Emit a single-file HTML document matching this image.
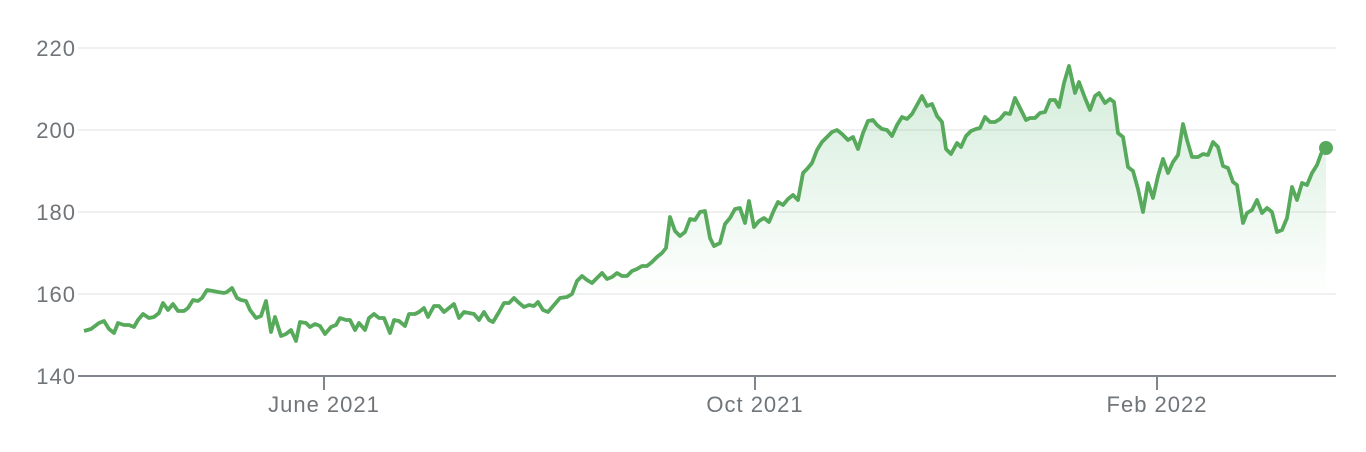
<!DOCTYPE html>
<html><head><style>body{margin:0;background:#fff}svg{display:block}text{font-family:"Liberation Sans",sans-serif;fill:#70757a;font-size:22px;letter-spacing:1px}</style></head><body>
<svg width="1366" height="452" viewBox="0 0 1366 452">
<defs><linearGradient id="g" x1="0" y1="60" x2="0" y2="300" gradientUnits="userSpaceOnUse"><stop offset="0" stop-color="#34a853" stop-opacity="0.22"/><stop offset="1" stop-color="#34a853" stop-opacity="0"/></linearGradient></defs>
<g stroke="#ececec" stroke-width="1.5"><line x1="78" y1="48" x2="1336" y2="48"/><line x1="78" y1="130" x2="1336" y2="130"/><line x1="78" y1="212" x2="1336" y2="212"/><line x1="78" y1="294" x2="1336" y2="294"/></g>
<g text-anchor="end"><text x="76" y="56">220</text><text x="76" y="138">200</text><text x="76" y="220">180</text><text x="76" y="302">160</text><text x="76" y="384">140</text></g>
<polygon fill="url(#g)" points="84,331 91,329 99,323 104,321 109,329 114,333 118,323 124,325 129,325 134,327 138,320 143,314 149,318 154,317 159,313 163,303 168,310 173,304 178,311 184,311 188,308 193,300 198,301 202,298 207,290 213,291 218,292 224,293 227,292 232,288 237,298 241,300 246,301 250,310 256,318 261,316 266,301 271,332 275,317 281,336 286,334 291,330 296,341 300,322 306,323 310,327 315,324 320,326 325,334 331,327 336,325 340,318 346,320 350,320 355,330 359,323 365,330 369,318 374,314 379,318 384,318 390,333 394,320 399,321 405,326 409,314 415,314 419,312 424,308 428,317 434,306 439,306 444,312 449,308 454,304 459,318 464,312 469,313 474,314 479,320 484,312 489,320 493,322 499,312 504,303 509,303 514,298 518,302 524,307 529,305 534,306 538,302 543,310 548,312 554,305 560,298 567,297 572,294 577,281 582,276 587,280 592,283 597,278 602,273 607,279 612,277 617,273 622,276 627,276 632,271 637,269 642,266 647,266 652,262 657,257 662,253 666,248 670,217 675,231 680,236 685,232 690,219 695,220 700,212 705,211 710,238 714,246 720,243 725,224 730,218 735,209 740,208 745,223 749,201 754,227 759,221 764,218 769,222 774,210 778,202 783,205 788,199 793,195 798,200 803,173 807,169 812,163 817,150 822,142 827,137 832,132 837,130 842,134 848,140 853,137 858,149 863,133 868,121 873,120 877,125 882,129 887,130 892,136 897,125 902,117 907,119 912,114 917,105 922,96 927,106 932,104 937,116 942,122 946,149 951,154 957,143 961,147 966,136 971,131 976,129 980,128 985,117 990,122 995,122 1000,119 1005,113 1010,114 1015,98 1020,108 1026,120 1030,118 1035,118 1040,113 1045,112 1050,100 1055,100 1059,107 1064,83 1069,66 1075,93 1079,82 1085,98 1090,110 1095,96 1099,93 1105,103 1110,99 1114,102 1118,133 1123,137 1128,167 1133,171 1138,189 1143,212 1148,183 1153,198 1158,176 1163,159 1168,173 1173,162 1178,155 1183,124 1187,140 1192,157 1198,157 1203,154 1208,155 1213,142 1218,147 1223,166 1228,168 1233,182 1237,185 1243,223 1247,213 1252,210 1257,200 1262,213 1267,208 1272,212 1277,232 1282,230 1287,218 1292,187 1297,200 1302,183 1307,185 1312,173 1317,165 1321,154 1326,147 1326,376 84,376"/>
<polyline fill="none" stroke="#57a95b" stroke-width="3.8" stroke-linejoin="round" points="84,331 91,329 99,323 104,321 109,329 114,333 118,323 124,325 129,325 134,327 138,320 143,314 149,318 154,317 159,313 163,303 168,310 173,304 178,311 184,311 188,308 193,300 198,301 202,298 207,290 213,291 218,292 224,293 227,292 232,288 237,298 241,300 246,301 250,310 256,318 261,316 266,301 271,332 275,317 281,336 286,334 291,330 296,341 300,322 306,323 310,327 315,324 320,326 325,334 331,327 336,325 340,318 346,320 350,320 355,330 359,323 365,330 369,318 374,314 379,318 384,318 390,333 394,320 399,321 405,326 409,314 415,314 419,312 424,308 428,317 434,306 439,306 444,312 449,308 454,304 459,318 464,312 469,313 474,314 479,320 484,312 489,320 493,322 499,312 504,303 509,303 514,298 518,302 524,307 529,305 534,306 538,302 543,310 548,312 554,305 560,298 567,297 572,294 577,281 582,276 587,280 592,283 597,278 602,273 607,279 612,277 617,273 622,276 627,276 632,271 637,269 642,266 647,266 652,262 657,257 662,253 666,248 670,217 675,231 680,236 685,232 690,219 695,220 700,212 705,211 710,238 714,246 720,243 725,224 730,218 735,209 740,208 745,223 749,201 754,227 759,221 764,218 769,222 774,210 778,202 783,205 788,199 793,195 798,200 803,173 807,169 812,163 817,150 822,142 827,137 832,132 837,130 842,134 848,140 853,137 858,149 863,133 868,121 873,120 877,125 882,129 887,130 892,136 897,125 902,117 907,119 912,114 917,105 922,96 927,106 932,104 937,116 942,122 946,149 951,154 957,143 961,147 966,136 971,131 976,129 980,128 985,117 990,122 995,122 1000,119 1005,113 1010,114 1015,98 1020,108 1026,120 1030,118 1035,118 1040,113 1045,112 1050,100 1055,100 1059,107 1064,83 1069,66 1075,93 1079,82 1085,98 1090,110 1095,96 1099,93 1105,103 1110,99 1114,102 1118,133 1123,137 1128,167 1133,171 1138,189 1143,212 1148,183 1153,198 1158,176 1163,159 1168,173 1173,162 1178,155 1183,124 1187,140 1192,157 1198,157 1203,154 1208,155 1213,142 1218,147 1223,166 1228,168 1233,182 1237,185 1243,223 1247,213 1252,210 1257,200 1262,213 1267,208 1272,212 1277,232 1282,230 1287,218 1292,187 1297,200 1302,183 1307,185 1312,173 1317,165 1321,154 1326,147"/>
<circle cx="1326" cy="148" r="7" fill="#57a95b"/>
<line x1="78" y1="376" x2="1336" y2="376" stroke="#80868b" stroke-width="2"/>
<g stroke="#80868b" stroke-width="2"><line x1="324" y1="376" x2="324" y2="390"/><line x1="755" y1="376" x2="755" y2="390"/><line x1="1157" y1="376" x2="1157" y2="390"/></g>
<g text-anchor="middle"><text x="324" y="412">June 2021</text><text x="755" y="412">Oct 2021</text><text x="1157" y="412">Feb 2022</text></g>
</svg></body></html>
